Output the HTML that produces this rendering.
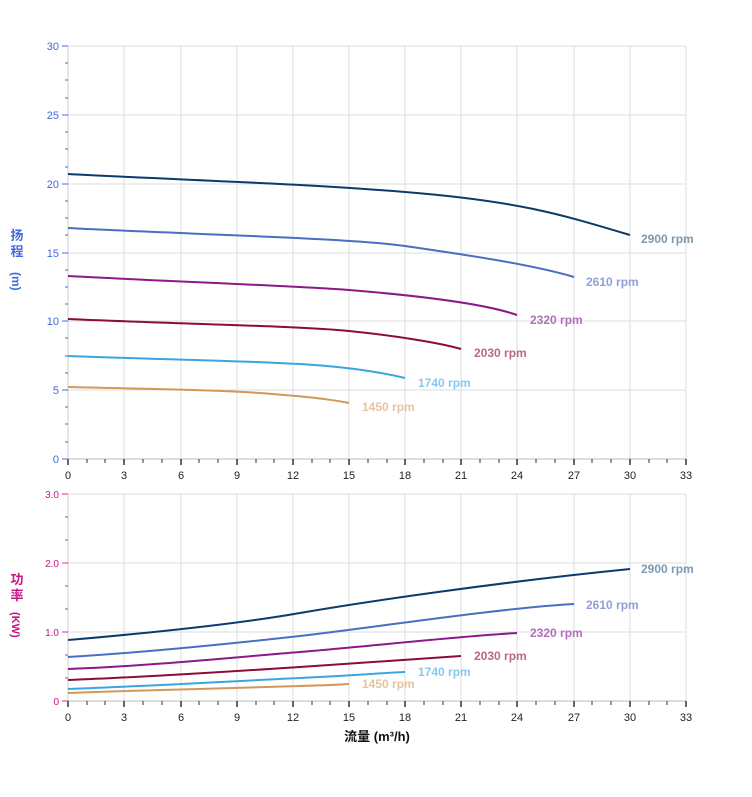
<!DOCTYPE html><html><head><meta charset="utf-8"><style>body{margin:0;background:#fff}svg{display:block;font-family:"Liberation Sans","Noto Sans CJK SC",sans-serif}</style></head><body>
<svg width="752" height="797" xmlns="http://www.w3.org/2000/svg">
<g stroke="#ddd" stroke-width="1">
<line x1="68" y1="46" x2="686" y2="46"/><line x1="68" y1="115" x2="686" y2="115"/><line x1="68" y1="184" x2="686" y2="184"/><line x1="68" y1="253" x2="686" y2="253"/><line x1="68" y1="321" x2="686" y2="321"/><line x1="68" y1="390" x2="686" y2="390"/>
<line x1="68" y1="494" x2="686" y2="494"/><line x1="68" y1="563" x2="686" y2="563"/><line x1="68" y1="632" x2="686" y2="632"/>
<g id="vg"><line x1="124" y1="46" x2="124" y2="459"/><line x1="181" y1="46" x2="181" y2="459"/><line x1="237" y1="46" x2="237" y2="459"/><line x1="293" y1="46" x2="293" y2="459"/><line x1="349" y1="46" x2="349" y2="459"/><line x1="405" y1="46" x2="405" y2="459"/><line x1="461" y1="46" x2="461" y2="459"/><line x1="517" y1="46" x2="517" y2="459"/><line x1="574" y1="46" x2="574" y2="459"/><line x1="630" y1="46" x2="630" y2="459"/><line x1="686" y1="46" x2="686" y2="459"/></g>
<path d="M124 494V701M181 494V701M237 494V701M293 494V701M349 494V701M405 494V701M461 494V701M517 494V701M574 494V701M630 494V701M686 494V701"/>
</g>
<g stroke="#bbb"><line x1="68" y1="459" x2="686" y2="459"/><line x1="68" y1="701" x2="686" y2="701"/><line x1="68" y1="46" x2="68" y2="459" stroke="#ccc"/><line x1="68" y1="494" x2="68" y2="701" stroke="#ccc"/></g>
<g id="xt" stroke="#333"><path d="M68 459v6M124 459v6M181 459v6M237 459v6M293 459v6M349 459v6M405 459v6M461 459v6M517 459v6M574 459v6M630 459v6M686 459v6" stroke-width="1.5"/>
<path d="M87 459v4M105 459v4M143 459v4M162 459v4M199 459v4M218 459v4M256 459v4M274 459v4M312 459v4M330 459v4M368 459v4M387 459v4M424 459v4M443 459v4M480 459v4M499 459v4M536 459v4M555 459v4M592 459v4M611 459v4M649 459v4M667 459v4"/></g>
<use href="#xt" transform="translate(0,242)"/>
<g stroke="#4169e1"><path d="M62 46h6M62 115h6M62 184h6M62 253h6M62 321h6M62 390h6M62 459h6"/><path d="M65 63h3M65 80h3M65 98h3M65 132h3M65 149h3M65 167h3M65 201h3M65 218h3M65 235h3M65 270h3M65 287h3M65 304h3M65 338h3M65 356h3M65 373h3M65 407h3M65 424h3M65 442h3"/></g>
<g stroke="#d0309a"><path d="M62 494h6M62 563h6M62 632h6M62 701h6"/><path d="M65 517h3M65 540h3M65 586h3M65 609h3M65 655h3M65 678h3"/></g>
<g font-size="11" fill="#4169e1" text-anchor="end"><text x="59" y="50">30</text><text x="59" y="119">25</text><text x="59" y="188">20</text><text x="59" y="257">15</text><text x="59" y="325">10</text><text x="59" y="394">5</text><text x="59" y="463">0</text></g>
<g font-size="10" fill="#c71585" text-anchor="end"><text x="59" y="498">3.0</text><text x="59" y="567">2.0</text><text x="59" y="636">1.0</text><text x="59" y="705">0</text></g>
<g id="xl" font-size="11" fill="#222" text-anchor="middle"><text x="68" y="479">0</text><text x="124" y="479">3</text><text x="181" y="479">6</text><text x="237" y="479">9</text><text x="293" y="479">12</text><text x="349" y="479">15</text><text x="405" y="479">18</text><text x="461" y="479">21</text><text x="517" y="479">24</text><text x="574" y="479">27</text><text x="630" y="479">30</text><text x="686" y="479">33</text></g>
<use href="#xl" transform="translate(0,242)"/>
<text x="17" y="240" font-size="13" fill="#4169e1" font-weight="bold" text-anchor="middle">扬</text><text x="17" y="256" font-size="13" fill="#4169e1" font-weight="bold" text-anchor="middle">程</text>
<text transform="translate(12,272) rotate(90)" font-size="12" fill="#4169e1" font-weight="bold">(m)</text>
<text x="17" y="584" font-size="13" fill="#c71585" font-weight="bold" text-anchor="middle">功</text><text x="17" y="600" font-size="13" fill="#c71585" font-weight="bold" text-anchor="middle">率</text>
<text transform="translate(12,612) rotate(90)" font-size="11" fill="#c71585" font-weight="bold">(KW)</text>
<text x="377" y="741" font-size="13" font-weight="bold" text-anchor="middle" fill="#111">流量 (m³/h)</text>
<g fill="none" stroke-width="2">
<path stroke="#0b3a6b" d="M68 174C180 180 293 183 405 192S560 214 630 235"/>
<path stroke="#4a6fc0" d="M68 228C180 234 350 238 405 246S530 264 574 277"/>
<path stroke="#8a1a8a" d="M68 276C180 282 300 286 349 290S480 302 517 315"/>
<path stroke="#8a0c3a" d="M68 319C180 324 300 326 349 331S440 343 461 349"/>
<path stroke="#3aa6e0" d="M68 356C180 360 250 361 300 364S380 372 405 378"/>
<path stroke="#d4975a" d="M68 387C150 389 220 390 260 393S330 399 349 403"/>
<path stroke="#0b3a6b" d="M68 640C150 633 237 624 300 613S500 582 630 569"/>
<path stroke="#4a6fc0" d="M68 657C150 652 237 643 300 636S500 608 574 604"/>
<path stroke="#8a1a8a" d="M68 669C150 666 237 657 300 652S460 636 517 633"/>
<path stroke="#8a0c3a" d="M68 680C150 677 237 671 300 667S420 659 461 656"/>
<path stroke="#3aa6e0" d="M68 689C150 686 237 681 300 678S380 673 405 672"/>
<path stroke="#d4975a" d="M68 693C150 690 237 688 300 686S340 684 349 684"/>
</g>
<g font-size="12" font-weight="bold">
<text x="641" y="243" fill="#7f98a8">2900 rpm</text><text x="586" y="286" fill="#8fa0d8">2610 rpm</text><text x="530" y="324" fill="#b070b8">2320 rpm</text><text x="474" y="357" fill="#b86a80">2030 rpm</text><text x="418" y="387" fill="#88c8ec">1740 rpm</text><text x="362" y="411" fill="#e6c4a0">1450 rpm</text>
<text x="641" y="573" fill="#7f98b8">2900 rpm</text><text x="586" y="609" fill="#8fa0d8">2610 rpm</text><text x="530" y="637" fill="#b070b8">2320 rpm</text><text x="474" y="660" fill="#b86a80">2030 rpm</text><text x="418" y="676" fill="#88c8ec">1740 rpm</text><text x="362" y="688" fill="#e6c4a0">1450 rpm</text>
</g>
</svg></body></html>
